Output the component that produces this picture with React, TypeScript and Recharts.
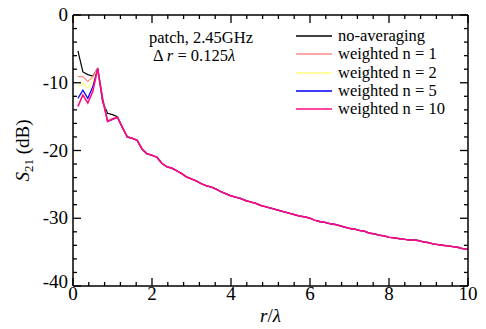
import React from 'react';
import { LineChart, Line, XAxis, YAxis, Legend, Label } from 'recharts';

const rValues = [
  0.125, 0.25, 0.375, 0.5, 0.625, 0.75, 0.875, 1.0, 1.125,
  1.25, 1.375, 1.5, 1.625, 1.75, 1.875, 2.0, 2.125, 2.25, 2.375, 2.5, 2.625, 2.75, 2.875,
  3.0, 3.125, 3.25, 3.375, 3.5, 3.625, 3.75, 3.875, 4.0, 4.125, 4.25, 4.375, 4.5, 4.625, 4.75, 4.875,
  5.0, 5.125, 5.25, 5.375, 5.5, 5.625, 5.75, 5.875, 6.0, 6.125, 6.25, 6.375, 6.5, 6.625, 6.75, 6.875,
  7.0, 7.125, 7.25, 7.375, 7.5, 7.625, 7.75, 7.875, 8.0, 8.125, 8.25, 8.375, 8.5, 8.625, 8.75, 8.875,
  9.0, 9.125, 9.25, 9.375, 9.5, 9.625, 9.75, 9.875, 10.0,
];

// first 9 points (r = 0.125 .. 1.125) differ between series
const headNoAvg = [-5.3, -8.4, -8.8, -9.0, -7.9, -12.8, -14.5, -14.7, -15.0];
const headN1 = [-9.1, -9.1, -9.8, -9.1, -7.9, -12.2, -15.5, -15.3, -15.1];
const headN2 = [-10.6, -10.1, -10.8, -9.8, -7.9, -12.3, -15.6, -15.4, -15.1];
const headN5 = [-12.3, -11.1, -12.3, -10.6, -7.9, -12.4, -15.7, -15.4, -15.1];
const headN10 = [-13.5, -11.8, -13.0, -11.3, -7.9, -12.5, -15.7, -15.4, -15.1];

// common tail r = 1.25 .. 10
const tail = [
  -16.6, -18.0, -18.2, -18.5, -19.8, -20.5, -20.7, -21.0, -21.9, -22.4, -22.6, -23.0, -23.4, -23.9,
  -24.2, -24.5, -24.9, -25.2, -25.4, -25.7, -26.1, -26.4, -26.7, -26.9, -27.1, -27.4, -27.6, -27.8, -28.1, -28.3,
  -28.5, -28.7, -28.9, -29.1, -29.3, -29.5, -29.7, -29.8, -30.0, -30.3, -30.5, -30.6, -30.8, -30.9, -31.1, -31.3,
  -31.5, -31.6, -31.8, -31.9, -32.2, -32.3, -32.5, -32.6, -32.8, -32.9, -33.0, -33.1, -33.2, -33.2, -33.3, -33.5,
  -33.6, -33.8, -33.9, -34.0, -34.1, -34.2, -34.3, -34.5, -34.6,
];

const seriesKeys = ['noavg', 'n1', 'n2', 'n5', 'n10'];
const seriesNames = ['no-averaging', 'weighted n = 1', 'weighted n = 2', 'weighted n = 5', 'weighted n = 10'];
const seriesColors = ['#000000', '#ff8a8a', '#ffff80', '#0000ff', '#ff0a84'];
const heads = [headNoAvg, headN1, headN2, headN5, headN10];

const xTicks = [0, 0.4, 0.8, 1.2, 1.6, 2, 2.4, 2.8, 3.2, 3.6, 4, 4.4, 4.8, 5.2, 5.6, 6, 6.4, 6.8, 7.2, 7.6, 8, 8.4, 8.8, 9.2, 9.6, 10];
const xMajor = [0, 2, 4, 6, 8, 10];
const yTicks = [0, -2, -4, -6, -8, -10, -12, -14, -16, -18, -20, -22, -24, -26, -28, -30, -32, -34, -36, -38, -40];
const yMajor = [0, -10, -20, -30, -40];

const data = rValues.map((r, i) => {
  const row: any = { r };
  seriesKeys.forEach((k, s) => {
    row[k] = i < heads[s].length ? heads[s][i] : tail[i - heads[s].length];
  });
  return row;
});

const FONT = '"Liberation Serif", "Times New Roman", serif';
const TICK_FS = 19;
const MAJ = 8;
const MIN = 4;
const ROW_H = 18.3;
const txt = (size: number): React.CSSProperties => ({ fontFamily: FONT, fontSize: size });

const BottomTick = (p: any) => {
  const v = p.payload.value;
  const major = xMajor.includes(v);
  const y0 = p.y - 6;
  return (
    <g>
      <line x1={p.x} x2={p.x} y1={y0} y2={y0 - (major ? MAJ : MIN)} stroke="#000" strokeWidth={1.3} />
      {major && (
        <text x={p.x} y={y0 + 14} textAnchor="middle" style={txt(TICK_FS)} fill="#000">
          {v}
        </text>
      )}
    </g>
  );
};

const TopTick = (p: any) => {
  const v = p.payload.value;
  const major = xMajor.includes(v);
  return <line x1={p.x} x2={p.x} y1={p.y} y2={p.y + (major ? MAJ : MIN)} stroke="#000" strokeWidth={1.3} />;
};

const LeftTick = (p: any) => {
  const v = p.payload.value;
  const major = yMajor.includes(v);
  const x0 = p.x + 5;
  return (
    <g>
      <line x1={x0} x2={x0 + (major ? MAJ : MIN)} y1={p.y} y2={p.y} stroke="#000" strokeWidth={1.3} />
      {major && (
        <text x={p.x} y={p.y + (v === -40 ? 2 : 6)} textAnchor="end" style={txt(TICK_FS)} fill="#000">
          {v}
        </text>
      )}
    </g>
  );
};

const RightTick = (p: any) => {
  const v = p.payload.value;
  const major = yMajor.includes(v);
  return <line x1={p.x} x2={p.x - (major ? MAJ : MIN)} y1={p.y} y2={p.y} stroke="#000" strokeWidth={1.3} />;
};

const LegendContent = () => (
  <div style={{ fontFamily: FONT, fontSize: 16.5, color: '#000' }}>
    {seriesNames.map((n, i) => (
      <div key={n} style={{ display: 'flex', alignItems: 'center', height: ROW_H, lineHeight: `${ROW_H}px`, whiteSpace: 'nowrap' }}>
        <svg width={36} height={4} style={{ marginRight: 6, display: 'block' }}>
          <line x1={0} x2={36} y1={2} y2={2} stroke={seriesColors[i]} strokeWidth={1.3} />
        </svg>
        <span>{n}</span>
      </div>
    ))}
  </div>
);

export default function App() {
  return (
    <div style={{ position: 'absolute', left: 0, top: 0, width: 486, height: 329, background: '#fff' }}>
      <LineChart width={486} height={329} data={data} margin={{ top: 14, right: 17, bottom: 42, left: 72 }} style={{ fontFamily: FONT }}>
        <XAxis
          xAxisId="b"
          dataKey="r"
          type="number"
          domain={[0, 10]}
          ticks={xTicks}
          interval={0}
          allowDataOverflow
          orientation="bottom"
          height={1}
          tickSize={0}
          tickMargin={6}
          tickLine={false}
          axisLine={{ stroke: '#000', strokeWidth: 1.5 }}
          tick={(p: any) => <BottomTick {...p} />}
        >
          <Label
            content={(props: any) => {
              const vb = props.viewBox;
              const cx = vb.x + vb.width / 2;
              return (
                <text x={cx} y={vb.y + 36} textAnchor="middle" style={txt(TICK_FS)} fill="#000">
                  <tspan fontStyle="italic">r</tspan>
                  <tspan>/</tspan>
                  <tspan fontStyle="italic">λ</tspan>
                </text>
              );
            }}
          />
        </XAxis>
        <XAxis
          xAxisId="t"
          dataKey="r"
          type="number"
          domain={[0, 10]}
          ticks={xTicks}
          interval={0}
          allowDataOverflow
          orientation="top"
          height={1}
          tickSize={0}
          tickMargin={0}
          tickLine={false}
          axisLine={{ stroke: '#000', strokeWidth: 1.5 }}
          tick={(p: any) => <TopTick {...p} />}
        />
        <YAxis
          yAxisId="l"
          type="number"
          domain={[-40, 0]}
          ticks={yTicks}
          interval={0}
          allowDataOverflow
          orientation="left"
          width={1}
          tickSize={0}
          tickMargin={5}
          tickLine={false}
          axisLine={{ stroke: '#000', strokeWidth: 1.5 }}
          tick={(p: any) => <LeftTick {...p} />}
        >
          <Label
            content={(props: any) => {
              const vb = props.viewBox;
              const cx = vb.x - 43;
              const cy = vb.y + vb.height / 2;
              return (
                <text x={cx} y={cy} transform={`rotate(-90, ${cx}, ${cy})`} textAnchor="middle" style={txt(TICK_FS)} fill="#000">
                  <tspan fontStyle="italic">S</tspan>
                  <tspan dy={4} style={{ fontSize: 13 }}>21</tspan>
                  <tspan dy={-4}> (dB)</tspan>
                </text>
              );
            }}
          />
        </YAxis>
        <YAxis
          yAxisId="r"
          type="number"
          domain={[-40, 0]}
          ticks={yTicks}
          interval={0}
          allowDataOverflow
          orientation="right"
          width={1}
          tickSize={0}
          tickMargin={0}
          tickLine={false}
          axisLine={{ stroke: '#000', strokeWidth: 1.5 }}
          tick={(p: any) => <RightTick {...p} />}
        />
        <Legend
          layout="vertical"
          align="center"
          verticalAlign="middle"
          content={() => <LegendContent />}
          wrapperStyle={{ position: 'absolute', left: 296, top: 27, width: 180, height: 95 }}
        />
        {seriesKeys.map((k, i) => (
          <Line
            key={k}
            xAxisId="b"
            yAxisId="l"
            dataKey={k}
            name={seriesNames[i]}
            type="linear"
            stroke={seriesColors[i]}
            strokeWidth={i === 4 ? 1.6 : 1.2}
            dot={false}
            isAnimationActive={false}
          />
        ))}
      </LineChart>
      <svg width={486} height={329} style={{ position: 'absolute', left: 0, top: 0, pointerEvents: 'none' }}>
        <text x={149} y={43} style={txt(16.5)} fill="#000">patch, 2.45GHz</text>
        <text x={153} y={61} style={txt(16.5)} fill="#000">
          <tspan>Δ </tspan>
          <tspan fontStyle="italic">r</tspan>
          <tspan> = 0.125</tspan>
          <tspan fontStyle="italic">λ</tspan>
        </text>
      </svg>
    </div>
  );
}
